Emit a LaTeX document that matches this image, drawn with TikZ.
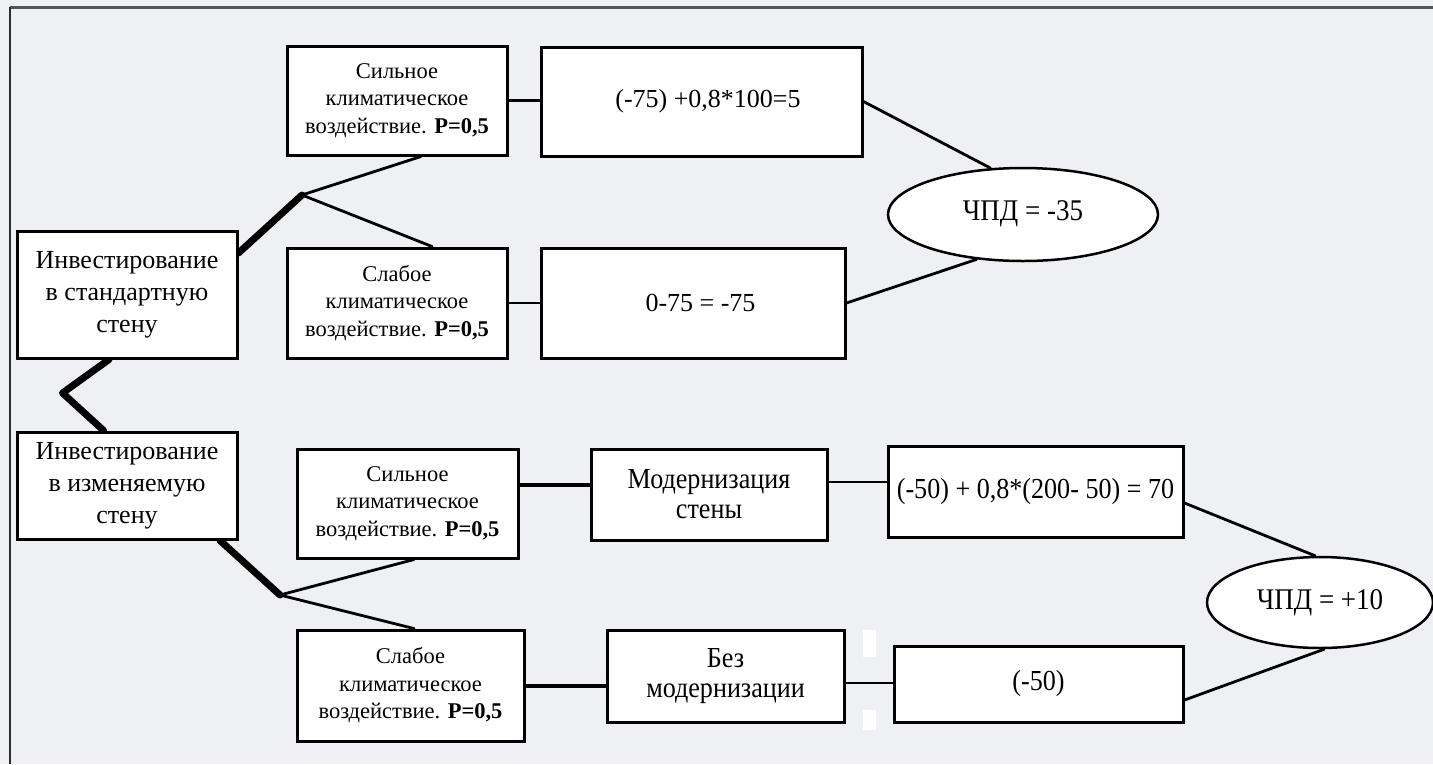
\documentclass[tikz,border=0pt]{standalone}
\usepackage{fontspec}
\setmainfont{Liberation Serif}
\newfontfamily\narrowserif[FakeStretch=0.9]{Liberation Serif}
\usetikzlibrary{shapes.geometric}

\definecolor{paper}{RGB}{239,240,244}
\definecolor{framegrey}{RGB}{85,85,85}
\definecolor{framedark}{RGB}{45,45,45}

\pgfdeclarelayer{canvas}
\pgfdeclarelayer{wires}
\pgfsetlayers{canvas,wires,main}

\begin{document}
\begin{tikzpicture}[x=1pt,y=-1pt,
  box/.style={draw=black, line width=3pt, fill=white, rectangle, inner sep=0pt, align=center},
  rootbox/.style={box, font=\fontsize{26}{32}\selectfont},
  chancebox/.style={box, font=\fontsize{22.5}{27.5}\selectfont},
  valuebox/.style={box, font=\fontsize{26}{30}\selectfont},
  actbox/.style={box, font=\narrowserif\fontsize{29}{30}\selectfont},
  sumbox/.style={box, font=\narrowserif\fontsize{29}{32}\selectfont},
  npv/.style={ellipse, draw=black, line width=2.5pt, fill=white, inner sep=0pt,
              font=\narrowserif\fontsize{30}{32}\selectfont},
  trunk/.style={line width=7pt, line cap=round, line join=round},
  stem/.style={line width=4pt},
  branch/.style={line width=2.8pt, line cap=round},
]
% canvas and frame
\useasboundingbox (0,0) rectangle (1433,764);
\begin{pgfonlayer}{canvas}
\fill[paper] (0,0) rectangle (1433,764);
\draw[framegrey, line width=2.5pt] (9.5,7.5) -- (1433,7.5);
\draw[framedark, line width=2pt] (10,7) -- (10,764);
\end{pgfonlayer}

% decision nodes
\node[rootbox, minimum width=220pt, minimum height=127pt] (A) at (127,294.5)
  {Инвестирование\\в стандартную\\стену};
\node[rootbox, minimum width=220pt, minimum height=107pt] (C) at (127,485.5)
  {Инвестирование\\в изменяемую\\стену};

% chance nodes
\node[chancebox, minimum width=220pt, minimum height=109pt] (B1) at (397,100.5)
  {Сильное\\климатическое\\воздействие. \textbf{P=0,5}};
\node[chancebox, minimum width=220pt, minimum height=110pt] (B2) at (397,303)
  {Слабое\\климатическое\\воздействие. \textbf{P=0,5}};
\node[chancebox, minimum width=221pt, minimum height=109pt] (D1) at (407.5,503.5)
  {Сильное\\климатическое\\воздействие. \textbf{P=0,5}};
\node[chancebox, minimum width=227pt, minimum height=111pt] (D2) at (410.5,685.5)
  {Слабое\\климатическое\\воздействие. \textbf{P=0,5}};

% outcomes, standard wall
\node[valuebox, minimum width=321pt, minimum height=109pt] (E1) at (701.5,101.5)
  {\hspace*{13pt}(-75) +0,8*100=5};
\node[valuebox, minimum width=304pt, minimum height=110pt] (E2) at (693,303)
  {\hspace*{15pt}0-75 = -75};
\node[npv, minimum width=270pt, minimum height=93pt] (N1) at (1023,214.5)
  {\raisebox{8pt}{ЧПД = -35}};

% actions and outcomes, adaptable wall
\node[actbox, minimum width=236pt, minimum height=91pt] (F1) at (709,494.5)
  {Модернизация\\стены};
\node[actbox, minimum width=237pt, minimum height=92pt] (F2) at (725.5,676)
  {Без\\модернизации};
\node[sumbox, minimum width=295pt, minimum height=91pt] (G1) at (1035.5,491.5)
  {\raisebox{6pt}{(-50) + 0,8*(200- 50) = 70}};
\node[sumbox, minimum width=289pt, minimum height=76pt] (G2) at (1038.5,684)
  {\raisebox{3pt}{(-50)}};
\node[npv, minimum width=226pt, minimum height=91pt] (N2) at (1320,602.5)
  {\raisebox{5pt}{ЧПД = +10}};

% branching points
\coordinate (J1) at (302,195);
\coordinate (K) at (62.5,393);
\coordinate (J2) at (280,595);

\begin{pgfonlayer}{wires}
% decision trunk
\draw[trunk] ([yshift=41.5pt]A.east) -- (J1);
\draw[trunk] ([xshift=-18pt]A.south) -- (K) -- ([xshift=-23.4pt]C.north);
\draw[trunk] ([xshift=93pt]C.south) -- (J2);

% chance branches
\draw[branch] (J1) -- ([xshift=24pt]B1.south);
\draw[branch] (J1) -- ([xshift=35pt]B2.north);
\draw[branch] (J2) -- ([xshift=6.5pt]D1.south);
\draw[branch] (J2) -- ([xshift=3.5pt]D2.north);

% links to outcomes
\draw[branch] (B1.east) -- (B1.east -| E1.west);
\draw[branch] (B2.east) -- (B2.east -| E2.west);
\draw[branch] (E1.east) -- (N1.125);
\draw[branch] (E2.east) -- (N1.224);

\draw[stem] ([yshift=18.5pt]D1.east) coordinate (d1r) -- (d1r -| F1.west);
\draw[branch] ([yshift=12.5pt]F1.east) coordinate (f1r) -- (f1r -| G1.west);
\draw[branch] ([yshift=-11.5pt]G1.east) -- (N2.96);

\draw[stem] (D2.east) -- (D2.east -| F2.west);
\draw[branch] ([yshift=-7pt]F2.east) coordinate (f2r) -- (f2r -| G2.west);
\draw[branch] ([yshift=-16pt]G2.east) -- (N2.-85);
\end{pgfonlayer}

% small white marks beside the last link
\fill[white] (863,630) rectangle (876,657);
\fill[white] (863,710) rectangle (876,730);
\end{tikzpicture}
\end{document}
